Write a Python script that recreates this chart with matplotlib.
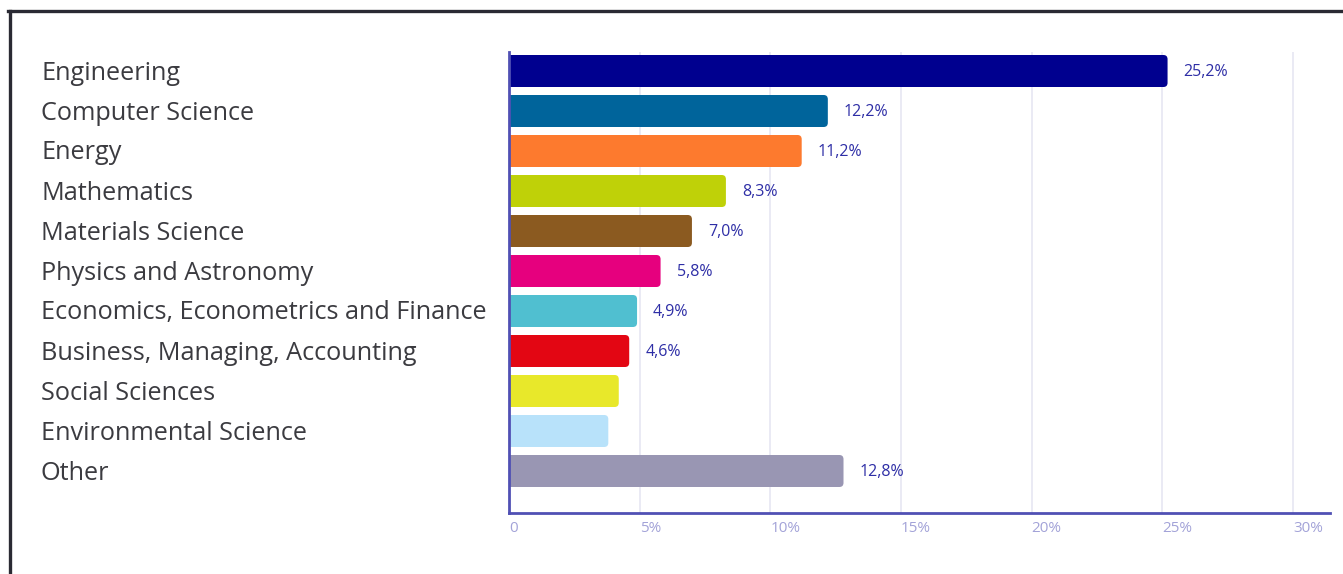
import matplotlib.pyplot as plt
from matplotlib.lines import Line2D
from matplotlib.patches import FancyBboxPatch

# subject areas and their share of publications (%)
categories = ["Engineering", "Computer Science", "Energy", "Mathematics",
              "Materials Science", "Physics and Astronomy",
              "Economics, Econometrics and Finance",
              "Business, Managing, Accounting", "Social Sciences",
              "Environmental Science", "Other"]
shares = [25.2, 12.2, 11.2, 8.3, 7.0, 5.8, 4.9, 4.6, 4.2, 3.8, 12.8]
# value labels (None = no label drawn)
value_labels = ["25,2%", "12,2%", "11,2%", "8,3%", "7,0%", "5,8%", "4,9%",
                "4,6%", None, None, "12,8%"]
bar_colors = ["#00008f", "#00649b", "#fd7a2e", "#bfd108", "#8b5a20",
              "#e6007e", "#50bfd0", "#e30613", "#e8e82a", "#b8e2fa",
              "#9996b3"]
xticks = [0, 5, 10, 15, 20, 25, 30]
xtick_labels = ["0", "5%", "10%", "15%", "20%", "25%", "30%"]

W, H = 1343, 574
fig = plt.figure(figsize=(W / 100, H / 100), dpi=100)
fig.patch.set_facecolor("white")

# axes box in pixels
x0, x1 = 509, 1330
y_top, y_bot = 52, 513
ax = fig.add_axes([x0 / W, 1 - y_bot / H, (x1 - x0) / W, (y_bot - y_top) / H])

xmax = 30 * (x1 - x0) / (1293 - x0)
ax.set_xlim(0, xmax)
ax.set_ylim(len(categories) - 1 + 1.05, -0.475)

# pixel size of one data unit, used to keep the corner rounding circular
px_x = (x1 - x0) / xmax
px_y = (y_bot - y_top) / (len(categories) - 1 + 1.05 + 0.475)

rows = list(range(len(categories)))
bars = ax.barh(rows, shares, height=0.8, color=bar_colors, zorder=3)
for b in bars:
    # swap each bar for a rounded box; the left end starts behind the axis
    x, y = b.get_x(), b.get_y()
    w, h = b.get_width(), b.get_height()
    start = x - 0.4
    rounded = FancyBboxPatch((start, y), w - start, h,
                             boxstyle="round,pad=0,rounding_size=0.16",
                             mutation_aspect=px_x / px_y,
                             facecolor=b.get_facecolor(), edgecolor="none",
                             zorder=3)
    b.remove()
    ax.add_patch(rounded)

for x in xticks[1:]:
    ax.axvline(x, color="#e6e6f2", lw=1.2, zorder=1)

for r, v, lab in zip(rows, shares, value_labels):
    if lab:
        ax.annotate(lab, (v, r), xytext=(11.5, -1), textcoords="offset points",
                    va="center", ha="left", fontsize=11.5, color="#2e2ea6",
                    family="Open Sans")

# category names on the left, aligned to a fixed pixel column
for r, name in zip(rows, categories):
    fig.text(41 / W, 1 - (73 + 40 * r) / H, name, ha="left", va="center",
             fontsize=18.2, color="#3b3b40", family="Open Sans")

ax.set_yticks([])
ax.set_xticks(xticks)
ax.set_xticklabels(xtick_labels, ha="left", fontsize=11, color="#a3a3d8",
                   family="Open Sans")
ax.tick_params(axis="x", length=0, pad=6)

for side in ["top", "right"]:
    ax.spines[side].set_visible(False)
for side in ["left", "bottom"]:
    ax.spines[side].set_color("#5050b4")
    ax.spines[side].set_linewidth(2)
    ax.spines[side].set_zorder(4)

# outer frame lines (top and left edges of the card)
fig.add_artist(Line2D([8 / W, 1], [1 - 11 / H, 1 - 11 / H], color="#2a2a33",
                      lw=2.4, transform=fig.transFigure))
fig.add_artist(Line2D([10 / W, 10 / W], [0, 1 - 11 / H], color="#2a2a33",
                      lw=2.4, transform=fig.transFigure))

fig.savefig("out.png", dpi=100, facecolor="white")
